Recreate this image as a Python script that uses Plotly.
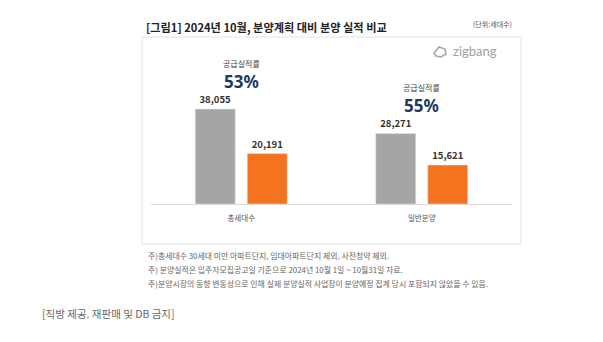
import plotly.graph_objects as go

categories = ["총세대수", "일반분양"]
planned = [38055, 28271]
actual = [20191, 15621]
rate_label = "공급실적률"

title_text = "[그림1] 2024년 10월, 분양계획 대비 분양 실적 비교"
unit_text = "(단위:세대수)"
notes = [
    "주)총세대수 30세대 미만 아파트단지, 임대아파트단지 제외, 사전청약 제외.",
    "주) 분양실적은 입주자모집공고일 기준으로 2024년 10월 1일 ~ 10월31일 자료.",
    "주)분양시장의 동향 변동성으로 인해 실제 분양실적 사업장이 분양예정 집계 당시 포함되지 않았을 수 있음.",
]
source_text = "[직방 제공. 재판매 및 DB 금지]"

W, H = 603, 342
ML, MR, MT, MB = 151, 91, 50, 138
PW, PH = W - ML - MR, H - MT - MB

def px(x):
    return (x - ML) / PW

def py(y):
    return (H - MB - y) / PH

KR = "Noto Sans CJK KR"

fig = go.Figure()
fig.add_trace(go.Bar(
    x=categories, y=planned, marker_color="#a5a5a5",
    texttemplate="<b>%{y:,}</b>", textposition="outside",
    textfont=dict(size=9.5, color="#333333", family=KR), cliponaxis=False,
))
fig.add_trace(go.Bar(
    x=categories, y=actual, marker_color="#f4731f",
    texttemplate="<b>%{y:,}</b>", textposition="outside",
    textfont=dict(size=9.5, color="#333333", family=KR), cliponaxis=False,
))

for c, p, a in zip(categories, planned, actual):
    rate = round(a / p * 100)
    fig.add_annotation(x=c, y=p, xref="x", yref="y", text=f"<b>{rate}%</b>",
                       showarrow=False, yanchor="middle", yshift=28,
                       font=dict(size=17, color="#1f3a5f", family="Noto Sans"))
    fig.add_annotation(x=c, y=p, xref="x", yref="y", text=rate_label,
                       showarrow=False, yanchor="middle", yshift=46,
                       font=dict(size=8, color="#444444", family=KR))

# panel box
fig.add_shape(type="rect", xref="paper", yref="paper",
              x0=px(142), x1=px(521), y0=py(244), y1=py(37),
              line=dict(color="#e2e2e2", width=1), fillcolor="rgba(0,0,0,0)", layer="below")

# title
fig.add_annotation(xref="paper", yref="paper", x=px(144), y=py(27), xanchor="left", yanchor="middle",
                   text=f"<b>{title_text}</b>", showarrow=False,
                   font=dict(size=11.2, color="#222222", family=KR))
fig.add_annotation(xref="paper", yref="paper", x=px(514), y=py(24), xanchor="right", yanchor="middle",
                   text=unit_text, showarrow=False,
                   font=dict(size=7, color="#555555", family=KR))

# logo
fig.add_annotation(xref="paper", yref="paper", x=px(451), y=py(51), xanchor="left", yanchor="middle",
                   text="zigbang", showarrow=False,
                   font=dict(size=13, color="#a0a0a0", family="Lato"))
cx, cy = 440, 52
fig.add_shape(type="path", xref="paper", yref="paper",
              path=(f"M {px(cx-6)},{py(cy+1)} L {px(cx-1)},{py(cy-5)} L {px(cx+5)},{py(cy-3)} "
                    f"L {px(cx+6)},{py(cy+2)} L {px(cx+1)},{py(cy+5)} L {px(cx-4)},{py(cy+4)} Z"),
              line=dict(color="#a8a8a8", width=1.6), fillcolor="rgba(0,0,0,0)")

# notes
for i, t in enumerate(notes):
    fig.add_annotation(xref="paper", yref="paper", x=px(146), y=py(255 + i * 14), xanchor="left",
                       yanchor="middle", text=t, showarrow=False,
                       font=dict(size=7.9, color="#666666", family=KR))

fig.add_annotation(xref="paper", yref="paper", x=px(40), y=py(313), xanchor="left", yanchor="middle",
                   text=source_text, showarrow=False,
                   font=dict(size=10.5, color="#666666", family=KR))

fig.update_layout(
    width=W, height=H,
    margin=dict(l=ML, r=MR, t=MT, b=MB),
    paper_bgcolor="white", plot_bgcolor="white",
    barmode="group", bargap=0.424, bargroupgap=0.23,
    showlegend=False,
    xaxis=dict(showline=True, linecolor="#d9d9d9", linewidth=1, showgrid=False,
               ticks="", ticklabelstandoff=7,
               tickfont=dict(size=7.5, color="#555555", family=KR)),
    yaxis=dict(range=[0, 61690], visible=False, showgrid=False, zeroline=False),
)

fig.write_html("out.html")
